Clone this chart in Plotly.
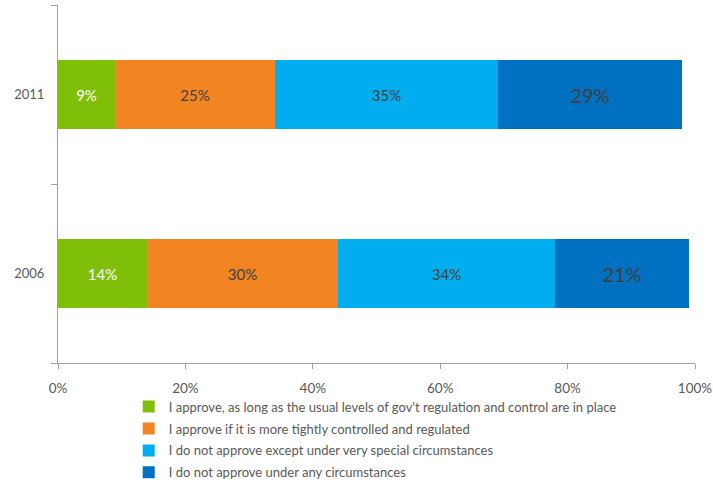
import plotly.graph_objects as go

# Survey years (bottom to top) and answer shares in percent
years = ["2006", "2011"]
answers = [
    "I approve, as long as the usual levels of gov't regulation and control are in place",
    "I approve if it is more tightly controlled and regulated",
    "I do not approve except under very special circumstances",
    "I do not approve under any circumstances",
]
share_2006 = [14, 30, 34, 21]
share_2011 = [9, 25, 35, 29]
x_ticks = [0, 20, 40, 60, 80, 100]

colors = ["#7FBF0A", "#F28522", "#00AEEF", "#0070C0"]
label_colors = ["#FFFFFF", "#404040", "#404040", "#404040"]
label_sizes = [15, 15, 15, 20]

FONT = "Lato, 'Open Sans', sans-serif"
AXIS = "#A0A0A0"
TEXT = "#595959"

fig = go.Figure()
for i, name in enumerate(answers):
    fig.add_trace(go.Bar(
        orientation="h",
        y=years,
        x=[share_2006[i], share_2011[i]],
        name=name,
        legendgroup=f"g{i}",
        marker=dict(color=colors[i], line=dict(width=0)),
        width=0.39,
        texttemplate="%{x}%",
        textposition="inside",
        insidetextanchor="middle",
        textangle=0,
        textfont=dict(family=FONT, size=label_sizes[i], color=label_colors[i]),
        hoverinfo="skip",
    ))

fig.update_layout(
    width=713,
    height=484,
    barmode="stack",
    bargap=0,
    plot_bgcolor="white",
    paper_bgcolor="white",
    margin=dict(l=58, r=18, t=5, b=121, autoexpand=False),
    font=dict(family=FONT, size=13, color=TEXT),
    legend=dict(
        orientation="v",
        x=0.111,
        xanchor="left",
        y=-0.08,
        yanchor="top",
        traceorder="grouped",
        tracegroupgap=2,
        font=dict(family=FONT, size=13, color=TEXT),
        bgcolor="rgba(0,0,0,0)",
    ),
    xaxis=dict(
        range=[0, 100],
        tickvals=x_ticks,
        ticktext=[f"{v}%" for v in x_ticks],
        showgrid=False,
        zeroline=False,
        showline=True,
        linecolor=AXIS,
        linewidth=1,
        ticks="outside",
        ticklen=5,
        tickcolor=AXIS,
        ticklabelstandoff=8,
        ticklabeloverflow="allow",
        tickfont=dict(family=FONT, size=13.5, color=TEXT),
        fixedrange=True,
    ),
    yaxis=dict(
        type="category",
        categoryorder="array",
        categoryarray=years,
        range=[-0.5, 1.5],
        showgrid=False,
        zeroline=False,
        showline=True,
        linecolor=AXIS,
        linewidth=1,
        ticks="outside",
        tickson="boundaries",
        ticklen=6,
        tickcolor=AXIS,
        ticklabelstandoff=10,
        tickfont=dict(family=FONT, size=13, color=TEXT),
        fixedrange=True,
    ),
)

fig.write_html("out.html")
